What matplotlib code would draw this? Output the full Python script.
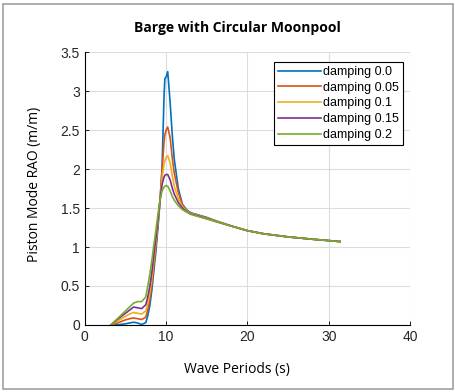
import numpy as np
import matplotlib
matplotlib.use("Agg")
import matplotlib.pyplot as plt
from matplotlib.patches import Rectangle

# wave periods (s) and piston-mode RAO for each damping value
periods = [3.2, 4.0, 4.5, 5.0, 5.5, 6.0, 6.5, 7.0, 7.5, 7.75, 8.0, 8.25, 8.5, 8.75,
           9.0, 9.25, 9.5, 9.75, 9.85, 10.0, 10.2, 10.5, 10.75, 11.0, 11.5, 12.0,
           12.5, 13.0, 14.0, 15.0, 16.0, 18.0, 20.0, 22.0, 25.0, 28.0, 31.4]

rao_00 = [0.0, 0.002, 0.008, 0.015, 0.025, 0.035, 0.025, 0.006, 0.03, 0.12, 0.25, 0.45,
          0.70, 0.95, 1.25, 1.58, 2.00, 2.95, 3.16, 3.18, 3.25, 2.85, 2.45, 2.13, 1.75, 1.55,
          1.48, 1.44, 1.41, 1.38, 1.34, 1.27, 1.21, 1.17, 1.13, 1.10, 1.07]
rao_05 = [0.0, 0.025, 0.045, 0.065, 0.08, 0.09, 0.08, 0.07, 0.10, 0.20, 0.33, 0.52,
          0.77, 1.02, 1.30, 1.60, 1.98, 2.35, 2.44, 2.50, 2.54, 2.40, 2.15, 1.95, 1.70, 1.54,
          1.47, 1.435, 1.405, 1.375, 1.34, 1.27, 1.21, 1.17, 1.13, 1.10, 1.07]
rao_10 = [0.0, 0.05, 0.08, 0.11, 0.14, 0.16, 0.15, 0.14, 0.18, 0.28, 0.42, 0.60,
          0.83, 1.07, 1.33, 1.60, 1.88, 2.07, 2.11, 2.15, 2.17, 2.08, 1.92, 1.78, 1.62, 1.52,
          1.465, 1.43, 1.40, 1.37, 1.335, 1.27, 1.21, 1.17, 1.13, 1.10, 1.07]
rao_15 = [0.0, 0.07, 0.11, 0.15, 0.19, 0.23, 0.22, 0.21, 0.26, 0.36, 0.50, 0.68,
          0.90, 1.12, 1.36, 1.60, 1.80, 1.90, 1.92, 1.93, 1.93, 1.86, 1.76, 1.68, 1.57, 1.50,
          1.455, 1.425, 1.395, 1.365, 1.33, 1.27, 1.21, 1.17, 1.13, 1.10, 1.07]
rao_20 = [0.0, 0.08, 0.13, 0.18, 0.23, 0.28, 0.30, 0.30, 0.36, 0.50, 0.65, 0.83,
          1.03, 1.22, 1.42, 1.60, 1.72, 1.77, 1.78, 1.79, 1.78, 1.72, 1.65, 1.60, 1.53, 1.48,
          1.45, 1.42, 1.39, 1.36, 1.33, 1.27, 1.21, 1.17, 1.13, 1.10, 1.07]

labels = ["damping 0.0", "damping 0.05", "damping 0.1", "damping 0.15", "damping 0.2"]
colors = ["#0072BD", "#D95319", "#EDB120", "#7E2F8E", "#77AC30"]

fig = plt.figure(figsize=(4.56, 3.92), dpi=100)
ax = fig.add_axes([0.186, 0.171, 0.713, 0.696])

for vals, lab, c in zip([rao_00, rao_05, rao_10, rao_15, rao_20], labels, colors):
    ax.plot(periods, vals, color=c, lw=1.2, label=lab)

ax.set_xlim(0, 40)
ax.set_ylim(0, 3.5)
ax.set_xticks([0, 10, 20, 30, 40])
ax.set_yticks(np.arange(0, 3.51, 0.5))
ax.set_yticklabels(["0", "0.5", "1", "1.5", "2", "2.5", "3", "3.5"])
ax.grid(True, color="#DCDCDC", lw=0.8)
ax.set_axisbelow(True)
for s in ["top", "right"]:
    ax.spines[s].set_visible(False)
for s in ["left", "bottom"]:
    ax.spines[s].set_linewidth(0.8)
ax.tick_params(direction="in", length=3, width=0.6, labelsize=10)
for t in ax.get_xticklabels() + ax.get_yticklabels():
    t.set_fontfamily("Liberation Sans")
    t.set_color("#262626")

leg = ax.legend(loc="upper right", bbox_to_anchor=(0.978, 0.963),
                fancybox=False, edgecolor="black", framealpha=1, handlelength=3.4,
                handletextpad=0.2, borderpad=0.3, labelspacing=0.3, borderaxespad=0,
                prop={"family": "Liberation Sans", "size": 9})
leg.get_frame().set_linewidth(0.8)

fig.text(237 / 456, 1 - 28 / 392, "Barge with Circular Moonpool", ha="center", va="center",
         fontsize=10, fontweight="bold", family="Open Sans")
fig.text(237 / 456, 1 - 369 / 392, "Wave Periods (s)", ha="center", va="center",
         fontsize=10, family="Open Sans")
fig.text(35 / 456, 0.5 + 0.03, "Piston Mode RAO (m/m)", ha="center", va="center",
         rotation=90, fontsize=10, family="Open Sans")

fig.patches.append(Rectangle((3 / 456, 3 / 392), 450 / 456, 385 / 392, transform=fig.transFigure,
                             fill=False, edgecolor="#A0A0A0", lw=1.2))

fig.savefig("out.png", dpi=100)
